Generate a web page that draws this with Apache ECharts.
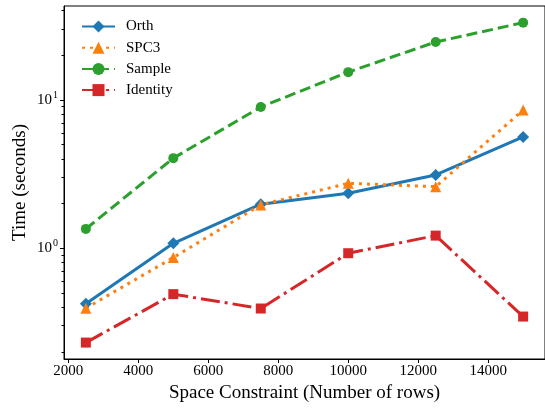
<!DOCTYPE html>
<html><head><meta charset="utf-8">
<script src="https://cdn.jsdelivr.net/npm/echarts@6/dist/echarts.min.js"></script>
<style>html,body{margin:0;padding:0;background:#fff}#c{width:545px;height:409px}</style>
</head><body><div id="c"></div>
<script>
const xValues = [2500, 5000, 7500, 10000, 12500, 15000];
const orth = [0.422, 1.08, 1.98, 2.35, 3.12, 5.63];
const spc3 = [0.394, 0.865, 1.96, 2.74, 2.60, 8.55];
const sample = [1.35, 4.05, 8.96, 15.4, 24.6, 33.2];
const identity = [0.231, 0.490, 0.392, 0.925, 1.216, 0.346];
const xTicks = [2000, 4000, 6000, 8000, 10000, 12000, 14000];
const yMajorTicks = [1, 10];
const yMinorTicks = [0.2,0.3,0.4,0.5,0.6,0.7,0.8,0.9,2,3,4,5,6,7,8,9,20,30,40];

const font = 'Liberation Serif';
const pair = arr => xValues.map((x, i) => [x, arr[i]]);

const chart = echarts.init(document.getElementById('c'), null, {renderer: 'canvas'});
chart.setOption({
  animation: false,
  textStyle: {fontFamily: font, color: '#000'},
  grid: {left: 64, right: 0, top: 6, bottom: 50, show: true, borderColor: '#000', borderWidth: 1, backgroundColor: 'transparent'},
  legend: {
    left: 76, top: 14, orient: 'vertical', itemWidth: 33, itemHeight: 15, itemGap: 6.2,
    textStyle: {fontFamily: font, fontSize: 15, color: '#000', padding: [0,0,0,6]},
    data: ['Orth', 'SPC3', 'Sample', 'Identity']
  },
  xAxis: {
    type: 'value', min: 1875, max: 15625,
    name: 'Space Constraint (Number of rows)', nameLocation: 'middle', nameGap: 22,
    nameTextStyle: {fontFamily: font, fontSize: 19, color: '#000'},
    axisLine: {show: true, lineStyle: {color: '#000', width: 1}},
    axisTick: {show: true, length: 4, lineStyle: {color: '#000'}, customValues: xTicks},
    axisLabel: {fontFamily: font, fontSize: 15, color: '#000', margin: 5, customValues: xTicks,
      formatter: v => String(v)},
    splitLine: {show: false}
  },
  yAxis: [{
    type: 'log', logBase: 10, min: 0.179, max: 43,
    name: 'Time (seconds)', nameLocation: 'middle', nameGap: 34, nameMoveOverlap: false,
    nameTextStyle: {fontFamily: font, fontSize: 19, color: '#000'},
    axisLine: {show: true, lineStyle: {color: '#000', width: 1}},
    axisTick: {show: true, length: 4, lineStyle: {color: '#000'}, customValues: yMajorTicks},
    axisLabel: {
      fontFamily: font, fontSize: 15, color: '#000', margin: 6, customValues: yMajorTicks,
      formatter: v => '10{sup|' + Math.round(Math.log10(v)) + '}',
      rich: {sup: {fontFamily: font, fontSize: 10, verticalAlign: 'top', padding: [0,0,9,1]}}
    },
    splitLine: {show: false}
  }, {
    type: 'log', logBase: 10, min: 0.179, max: 43, position: 'left', offset: 0,
    axisLine: {show: false},
    axisTick: {show: true, length: 2.5, lineStyle: {color: '#000'}, customValues: yMinorTicks},
    axisLabel: {show: false},
    splitLine: {show: false}
  }],
  series: [
    {name: 'Orth', type: 'line', data: pair(orth), color: '#1f77b4',
     lineStyle: {width: 3, type: 'solid'}, symbol: 'diamond', symbolSize: 12,
     itemStyle: {color: '#1f77b4'}},
    {name: 'SPC3', type: 'line', data: pair(spc3), color: '#ff7f0e',
     lineStyle: {width: 3, type: [3, 5], cap: 'butt'}, symbol: 'triangle', symbolSize: 11,
     itemStyle: {color: '#ff7f0e'}},
    {name: 'Sample', type: 'line', data: pair(sample), color: '#2ca02c',
     lineStyle: {width: 3, type: [11, 5], cap: 'butt'}, symbol: 'circle', symbolSize: 10,
     itemStyle: {color: '#2ca02c'}},
    {name: 'Identity', type: 'line', data: pair(identity), color: '#d62728',
     lineStyle: {width: 3, type: [19, 5, 3, 5], cap: 'butt'}, symbol: 'rect', symbolSize: 10,
     itemStyle: {color: '#d62728'}}
  ]
});
</script></body></html>
